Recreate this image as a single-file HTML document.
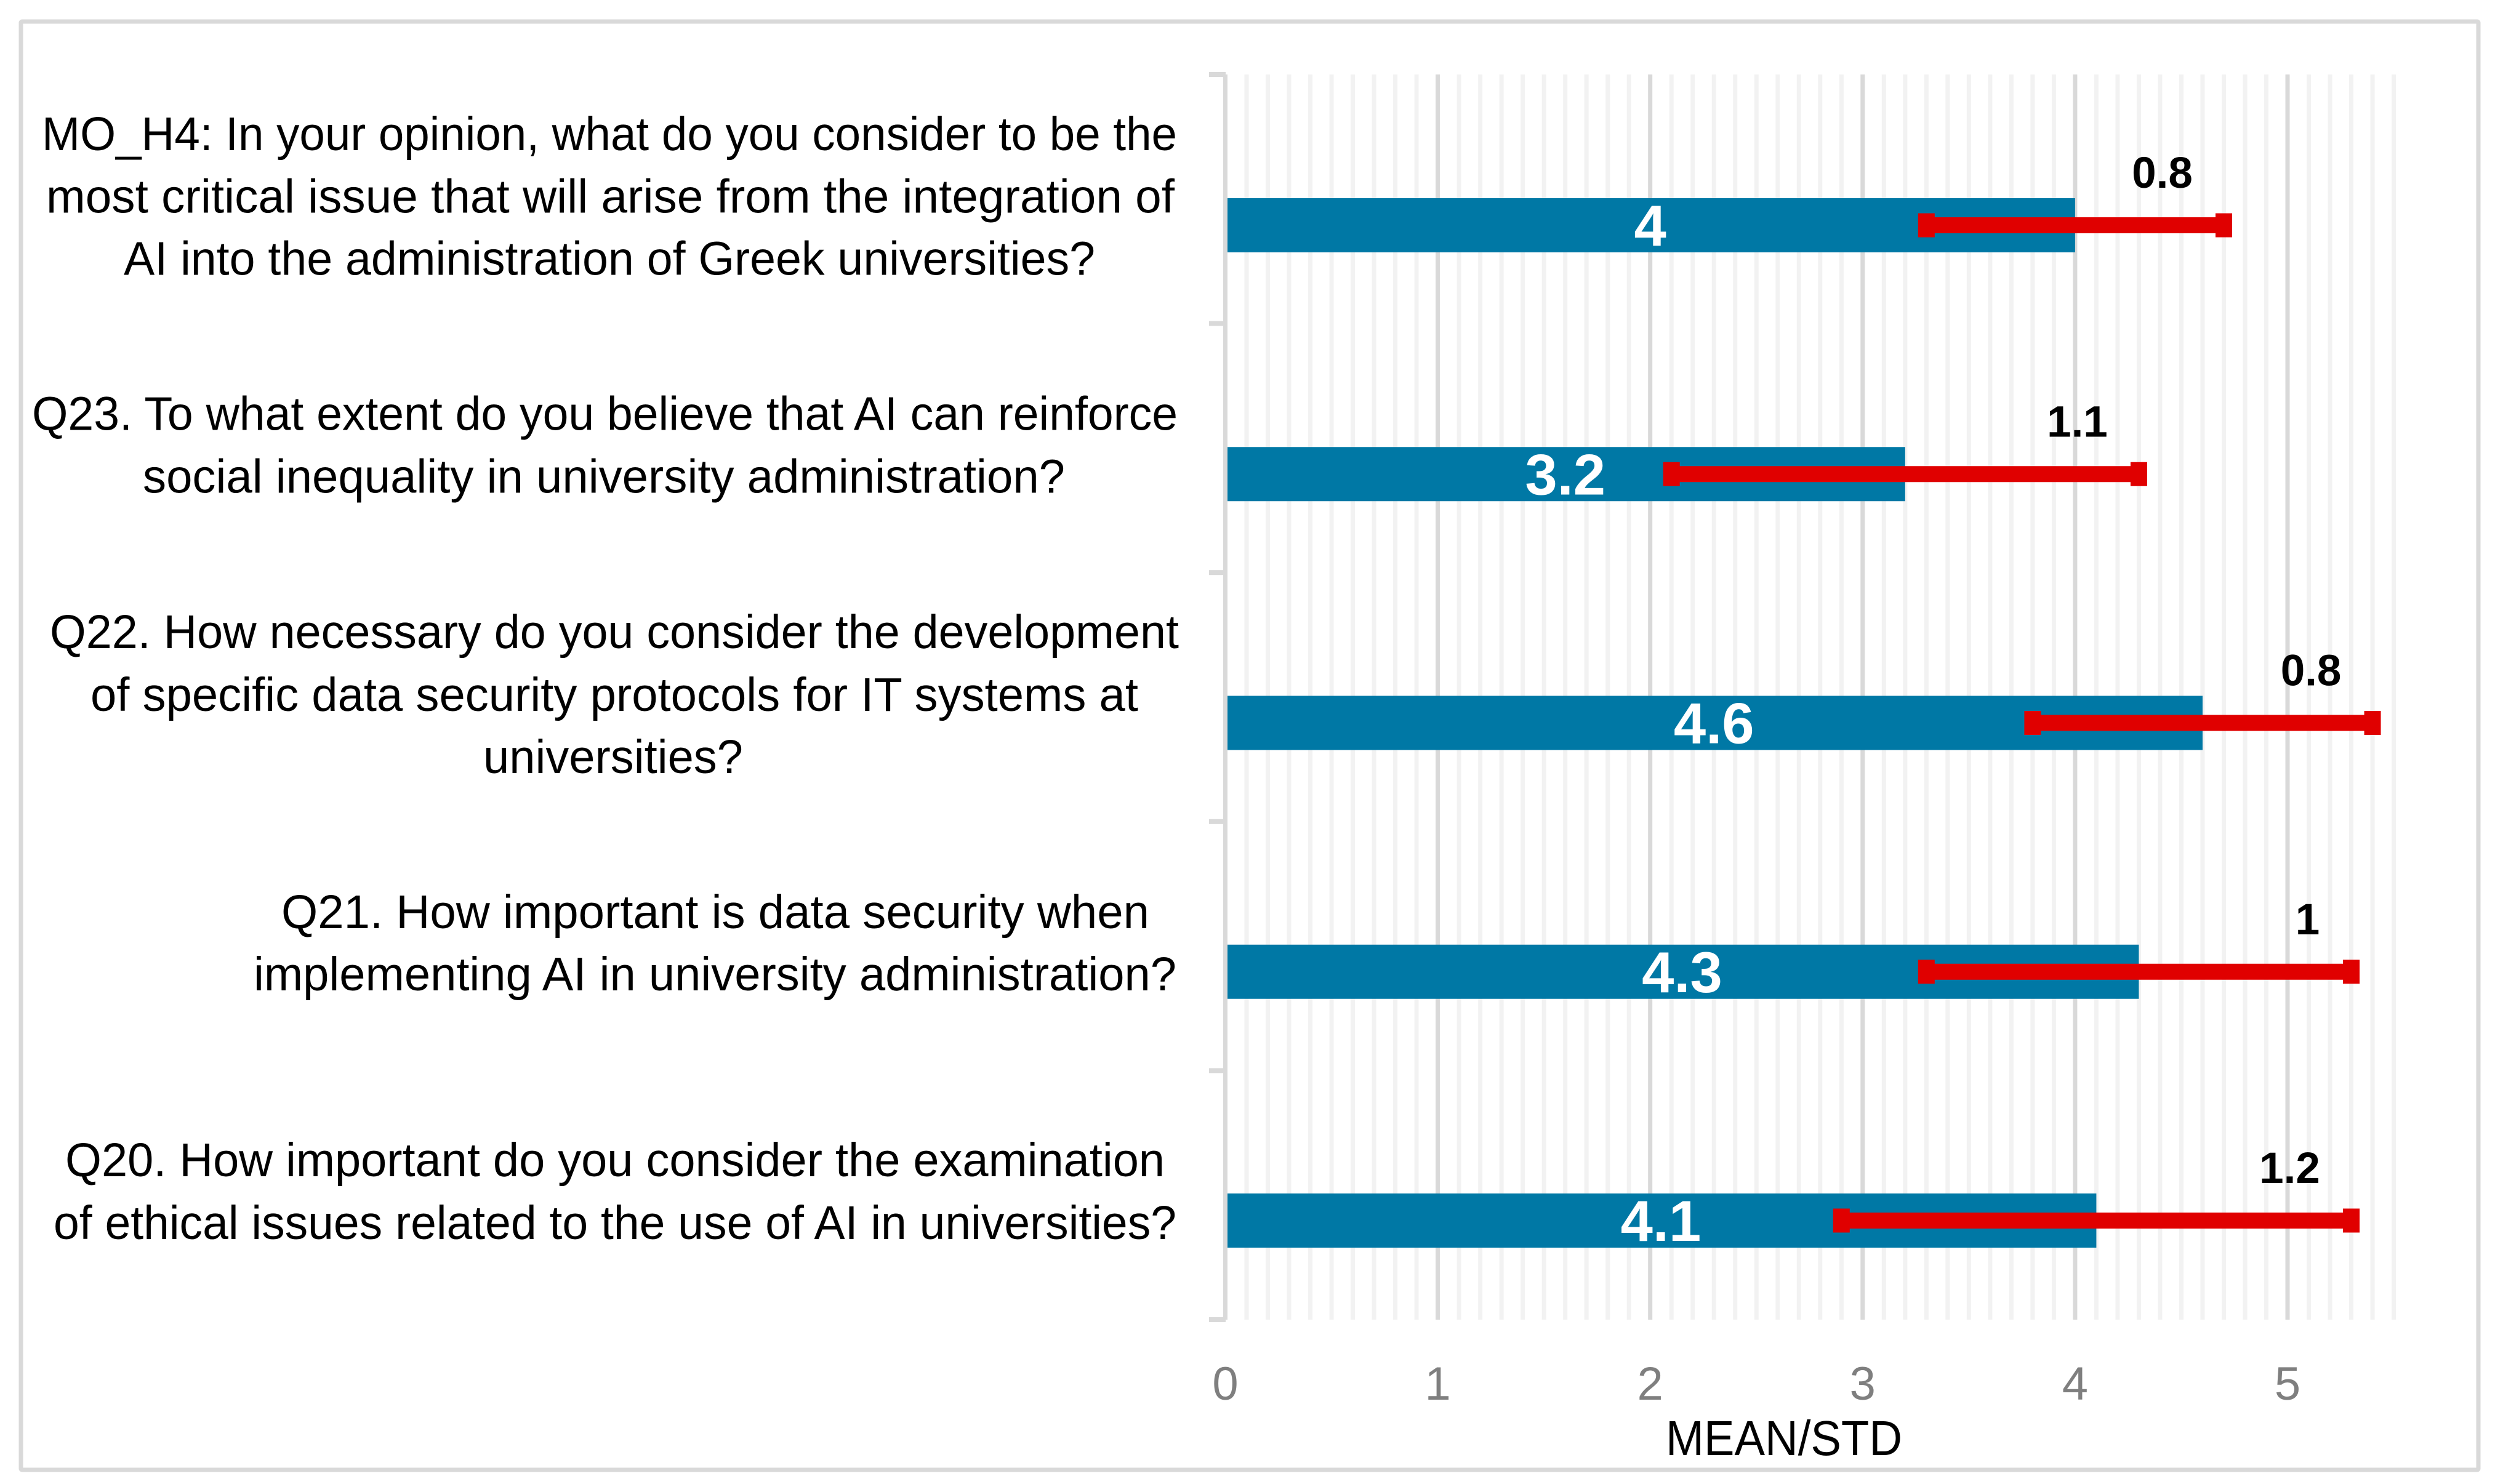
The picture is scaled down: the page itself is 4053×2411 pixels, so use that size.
<!DOCTYPE html>
<html lang="en">
<head>
<meta charset="utf-8">
<title>MEAN/STD bar chart</title>
<style>
  html, body { margin: 0; padding: 0; background: #ffffff; }
  svg { display: block; font-family: "Liberation Sans", Arial, sans-serif; }
  .cat { font-size: 77px; fill: #000000; }
</style>
</head>
<body>
<svg id="chart" xmlns="http://www.w3.org/2000/svg" width="4053" height="2411" viewBox="0 0 4053 2411">
  <rect x="0" y="0" width="4053" height="2411" fill="#ffffff"/>
  <rect x="34" y="35" width="3992" height="2353" fill="none" stroke="#d9d9d9" stroke-width="7" rx="2"/>
  <g id="grid"></g>
  <g id="bars"></g>
  <g id="axis"></g>
  <g id="errors"></g>
  <g id="meanLabelsGroup"></g>
  <g id="stdLabelsGroup"></g>
  <g id="xTicksGroup"></g>

  <g>
    <text class="cat" x="68" y="244" textLength="1844" lengthAdjust="spacingAndGlyphs">MO_H4: In your opinion, what do you consider to be the</text>
    <text class="cat" x="75" y="345.5" textLength="1833" lengthAdjust="spacingAndGlyphs">most critical issue that will arise from the integration of</text>
    <text class="cat" x="201" y="446.5" textLength="1578" lengthAdjust="spacingAndGlyphs">AI into the administration of Greek universities?</text>
  </g>
  <g>
    <text class="cat" x="52" y="698.5" textLength="1861" lengthAdjust="spacingAndGlyphs">Q23. To what extent do you believe that AI can reinforce</text>
    <text class="cat" x="232" y="800.5" textLength="1498" lengthAdjust="spacingAndGlyphs">social inequality in university administration?</text>
  </g>
  <g>
    <text class="cat" x="81" y="1053" textLength="1834" lengthAdjust="spacingAndGlyphs">Q22. How necessary do you consider the development</text>
    <text class="cat" x="147" y="1155" textLength="1702" lengthAdjust="spacingAndGlyphs">of specific data security protocols for IT systems at</text>
    <text class="cat" x="785" y="1256" textLength="422" lengthAdjust="spacingAndGlyphs">universities?</text>
  </g>
  <g>
    <text class="cat" x="457" y="1508" textLength="1410" lengthAdjust="spacingAndGlyphs">Q21. How important is data security when</text>
    <text class="cat" x="412" y="1609" textLength="1499" lengthAdjust="spacingAndGlyphs">implementing AI in university administration?</text>
  </g>
  <g>
    <text class="cat" x="106" y="1911" textLength="1786" lengthAdjust="spacingAndGlyphs">Q20. How important do you consider the examination</text>
    <text class="cat" x="87" y="2013" textLength="1824" lengthAdjust="spacingAndGlyphs">of ethical issues related to the use of AI in universities?</text>
  </g>

  <text x="2706" y="2364" font-size="80" fill="#000000" textLength="384" lengthAdjust="spacingAndGlyphs">MEAN/STD</text>
</svg>

<script>
// Chart data (top to bottom as drawn)
var categories = ['MO_H4', 'Q23', 'Q22', 'Q21', 'Q20'];
var means = [4, 3.2, 4.6, 4.3, 4.1];
var errorMargins = [0.7, 1.1, 0.8, 1, 1.2];
var meanLabels = ['4', '3.2', '4.6', '4.3', '4.1'];
var stdLabels = ['0.8', '1.1', '0.8', '1', '1.2'];
var xTickLabels = [0, 1, 2, 3, 4, 5];

var SVGNS = 'http://www.w3.org/2000/svg';
var xOrigin = 1990.5, xUnit = 345.1, xMax = 5.5, minorStep = 0.1;
var plotTop = 121, plotBottom = 2144;
var bandHeight = (plotBottom - plotTop) / categories.length;
var firstBarCenter = 366, barPitch = 404.25, barHeight = 88;

function xScale(v) { return xOrigin + v * xUnit; }
function barCenter(i) { return firstBarCenter + i * barPitch; }

function makeRect(parent, x, y, w, h, fill) {
  var r = document.createElementNS(SVGNS, 'rect');
  r.setAttribute('x', x);
  r.setAttribute('y', y);
  r.setAttribute('width', w);
  r.setAttribute('height', h);
  r.setAttribute('fill', fill);
  parent.appendChild(r);
  return r;
}

function makeText(parent, x, y, size, fill, weight, str) {
  var t = document.createElementNS(SVGNS, 'text');
  t.setAttribute('x', x);
  t.setAttribute('y', y);
  t.setAttribute('font-size', size);
  t.setAttribute('fill', fill);
  t.setAttribute('font-weight', weight);
  t.setAttribute('text-anchor', 'middle');
  t.textContent = str;
  parent.appendChild(t);
  return t;
}

var grid = document.getElementById('grid');
var bars = document.getElementById('bars');
var axis = document.getElementById('axis');
var errors = document.getElementById('errors');
var meanGroup = document.getElementById('meanLabelsGroup');
var stdGroup = document.getElementById('stdLabelsGroup');
var tickGroup = document.getElementById('xTicksGroup');

// Minor gridlines
var minorCount = Math.round(xMax / minorStep);
for (var m = 1; m <= minorCount; m++) {
  if (m % 10 === 0) continue;
  var minor = makeRect(grid, xScale(m * minorStep) - 3.5, plotTop, 7, plotBottom - plotTop, '#f2f2f2');
  
  
}

// Major gridlines and tick labels
xTickLabels.forEach(function (tick) {
  if (tick > 0) {
    var major = makeRect(grid, xScale(tick) - 3.5, plotTop, 7, plotBottom - plotTop, '#d9d9d9');
    
    
  }
  var label = makeText(tickGroup, xScale(tick), 2274, 76, '#7f7f7f', 'normal', String(tick));
  
  
});

// Bars
categories.forEach(function (cat, i) {
  var cy = barCenter(i);
  var bar = makeRect(bars, xOrigin, cy - barHeight / 2, xScale(means[i]) - xOrigin, barHeight, '#0078a5');
  
  
});

// Category axis line and ticks (drawn over bars)
var axisLine = makeRect(axis, xOrigin - 3.5, plotTop, 7, plotBottom - plotTop, '#d9d9d9');


for (var k = 0; k <= categories.length; k++) {
  var tickMark = makeRect(axis, 1964, plotTop + k * bandHeight - 4, 27, 8, '#d9d9d9');
  
  
}

// Error bars and labels
categories.forEach(function (cat, i) {
  var cy = barCenter(i);
  var name = cat.toLowerCase().replace('_', '-');
  var lo = xScale(means[i] - errorMargins[i]);
  var hi = xScale(means[i] + errorMargins[i]);

  var stem = makeRect(errors, lo, cy - 13, hi - lo, 26, '#e00000');
  
  

  var capLow = makeRect(errors, lo - 13.5, cy - 19.5, 27, 39, '#e00000');
  
  

  var capHigh = makeRect(errors, hi - 13.5, cy - 19.5, 27, 39, '#e00000');
  
  

  var meanText = makeText(meanGroup, (xOrigin + xScale(means[i])) / 2, cy + 33, 94, '#ffffff', 'bold', meanLabels[i]);
  
  

  var stdOffset = stdLabels[i].length === 1 ? 71 : 100;
  var stdText = makeText(stdGroup, hi - stdOffset, cy - 61, 71, '#000000', 'bold', stdLabels[i]);
  
  
});
</script>
</body>
</html>
